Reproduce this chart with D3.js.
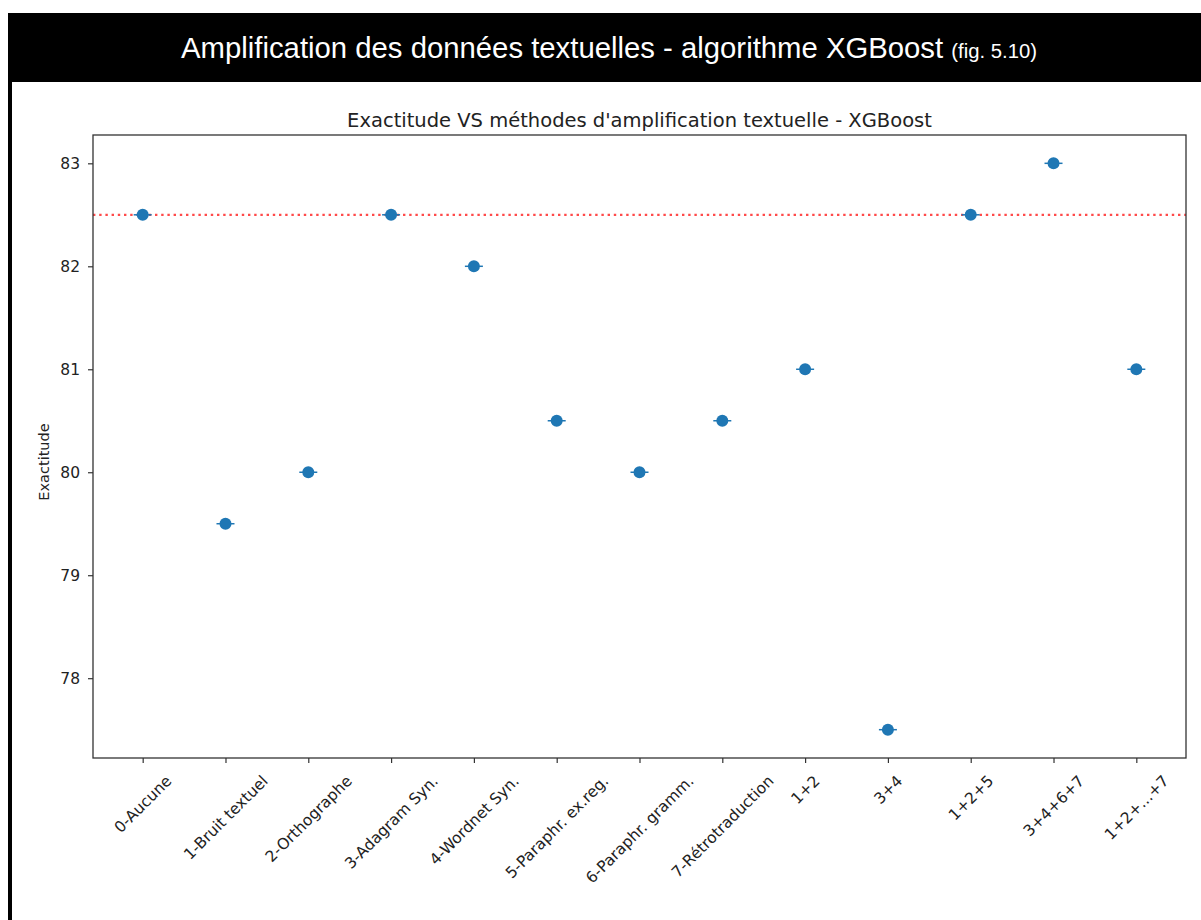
<!DOCTYPE html>
<html>
<head>
<meta charset="utf-8">
<script src="https://cdn.jsdelivr.net/npm/d3@7"></script>
<style>
  body { margin: 0; background: #fff; }
  svg { display: block; }
</style>
</head>
<body>
<svg id="chart" width="1201" height="920"></svg>
<script>
// Text augmentation methods and the accuracy obtained with XGBoost
const categories = [
  "0-Aucune", "1-Bruit textuel", "2-Orthographe", "3-Adagram Syn.",
  "4-Wordnet Syn.", "5-Paraphr. ex.reg.", "6-Paraphr. gramm.",
  "7-Rétrotraduction", "1+2", "3+4", "1+2+5", "3+4+6+7", "1+2+...+7"
];
const accuracy = [82.5, 79.5, 80, 82.5, 82, 80.5, 80, 80.5, 81, 77.5, 82.5, 83, 81];
const referenceLevel = 82.5;
const yTicks = [78, 79, 80, 81, 82, 83];

const headerTitle = "Amplification des données textuelles - algorithme XGBoost";
const headerNote = "(fig. 5.10)";
const chartTitle = "Exactitude VS méthodes d'amplification textuelle - XGBoost";
const yLabel = "Exactitude";

const svg = d3.select("#chart");
const W = 1201, H = 920;
const plot = { left: 93, right: 1186, top: 135, bottom: 758 };

// Page frame: black banner and left rule
svg.append("rect").attr("x", 0).attr("y", 0).attr("width", W).attr("height", H).attr("fill", "#fff");
svg.append("rect").attr("x", 8).attr("y", 13).attr("width", W - 8).attr("height", 69).attr("fill", "#000");
svg.append("rect").attr("x", 8).attr("y", 82).attr("width", 4).attr("height", H - 82).attr("fill", "#000");

const head = svg.append("text")
  .attr("x", 609).attr("y", 58)
  .attr("text-anchor", "middle")
  .attr("fill", "#fff")
  .style("font-family", "'Liberation Sans', Arial, sans-serif");
head.append("tspan").style("font-size", "29.3px").text(headerTitle + " ");
head.append("tspan").style("font-size", "20.3px").text(headerNote);

// Scales
const x = d3.scaleLinear()
  .domain([-0.6, categories.length - 1 + 0.6])
  .range([plot.left, plot.right]);
const ymin = d3.min(accuracy), ymax = d3.max(accuracy);
const pad = (ymax - ymin) * 0.05;
const y = d3.scaleLinear()
  .domain([ymin - pad, ymax + pad])
  .range([plot.bottom, plot.top]);

const font = "'DejaVu Sans', Verdana, sans-serif";
const axisColor = "#333";
const tickFont = "15.5px";

// Y axis
const yAxis = svg.append("g")
  .attr("transform", `translate(${plot.left},0)`)
  .call(d3.axisLeft(y).tickValues(yTicks).tickFormat(d3.format("d")).tickSize(5).tickPadding(8));
yAxis.select(".domain").remove();
yAxis.selectAll("line").attr("stroke", axisColor).attr("stroke-width", 1.2);
yAxis.selectAll("text").attr("fill", "#222").style("font-family", font).style("font-size", tickFont);

// X axis with labels rotated 45°, each centred under its tick
const xAxis = svg.append("g")
  .attr("transform", `translate(0,${plot.bottom})`)
  .call(d3.axisBottom(x).tickValues(d3.range(categories.length)).tickFormat(i => categories[i]).tickSize(5));
xAxis.select(".domain").remove();
xAxis.selectAll("line").attr("stroke", axisColor).attr("stroke-width", 1.2);
xAxis.selectAll("text")
  .attr("fill", "#222")
  .style("font-family", font).style("font-size", tickFont)
  .attr("text-anchor", "middle")
  .attr("dominant-baseline", "central")
  .each(function () {
    const w = this.getComputedTextLength();
    const h = 18;
    const cy = 14 + (w + h) * Math.SQRT1_2 / 2;
    d3.select(this).attr("y", null).attr("dy", null)
      .attr("transform", `translate(0,${cy}) rotate(-45)`);
  });

// Reference level line
svg.append("line")
  .attr("x1", plot.left).attr("x2", plot.right)
  .attr("y1", y(referenceLevel)).attr("y2", y(referenceLevel))
  .attr("stroke", "#ff2a2a").attr("stroke-opacity", 0.85)
  .attr("stroke-width", 2.2)
  .attr("stroke-dasharray", "2.4,3.8");

// Points with short horizontal bars
const pts = svg.append("g").selectAll("g").data(accuracy).join("g")
  .attr("transform", (d, i) => `translate(${x(i)},${y(d)})`);
pts.append("line").attr("x1", -9).attr("x2", 9).attr("stroke", "#1f77b4").attr("stroke-width", 1.5);
pts.append("circle").attr("r", 6).attr("fill", "#1f77b4");

// Frame of the axes
svg.append("rect")
  .attr("x", plot.left).attr("y", plot.top)
  .attr("width", plot.right - plot.left).attr("height", plot.bottom - plot.top)
  .attr("fill", "none").attr("stroke", axisColor).attr("stroke-width", 1.3);

// Titles
svg.append("text")
  .attr("x", (plot.left + plot.right) / 2).attr("y", 127)
  .attr("text-anchor", "middle")
  .attr("fill", "#222")
  .style("font-family", font).style("font-size", "19.5px")
  .text(chartTitle);

svg.append("text")
  .attr("transform", `translate(49,462) rotate(-90)`)
  .attr("text-anchor", "middle")
  .attr("fill", "#222")
  .style("font-family", font).style("font-size", "14.5px")
  .text(yLabel);
</script>
</body>
</html>
